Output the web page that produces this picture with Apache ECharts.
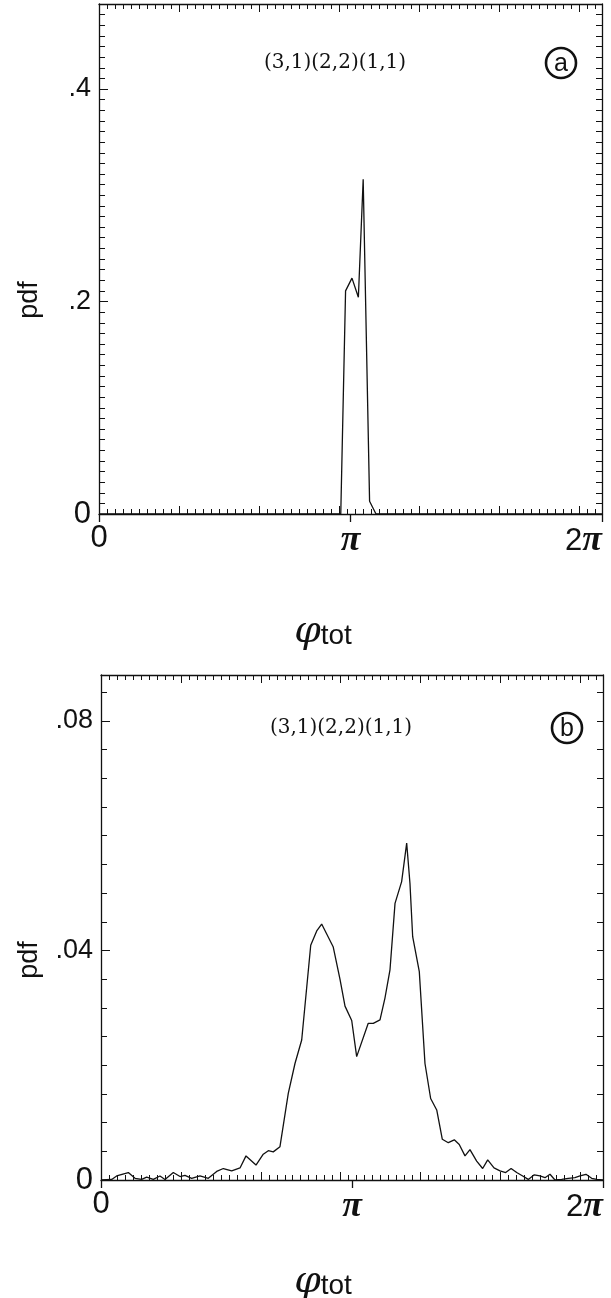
<!DOCTYPE html>
<html>
<head>
<meta charset="utf-8">
<script src="https://cdn.jsdelivr.net/npm/echarts@6/dist/echarts.min.js"></script>
<style>
html,body{margin:0;padding:0;background:#fff;}
#c{width:611px;height:1298px;}
</style>
</head>
<body>
<div id="c"></div>
<script>
// ---------- data ----------
const TWO_PI = 2 * Math.PI;
const xTickValues = [0, Math.PI, TWO_PI];
const xTickLabels = ['0', 'π', '2π'];

// panel (a)
const aX = [0, 3.02, 3.08, 3.16, 3.24, 3.30, 3.38, 3.46, TWO_PI];
const aY = [0, 0, 0.21, 0.222, 0.204, 0.315, 0.012, 0, 0];
const aYTickValues = [0, 0.2, 0.4];
const aYTickLabels = ['0', '.2', '.4'];
const aYMax = 0.48;

// panel (b)
const bX = [0, 0.134, 0.196, 0.342, 0.426, 0.509, 0.572, 0.655, 0.738, 0.801, 0.905, 0.989, 1.051, 1.135, 1.239, 1.343,
  1.448, 1.531, 1.636, 1.740, 1.815, 1.940, 2.031, 2.094, 2.156, 2.240, 2.344, 2.428, 2.512, 2.625, 2.700, 2.762,
  2.907, 2.991, 3.054, 3.138, 3.200, 3.345, 3.408, 3.492, 3.554, 3.617, 3.680, 3.763, 3.826, 3.867, 3.901, 3.984,
  4.055, 4.126, 4.202, 4.272, 4.347, 4.422, 4.484, 4.556, 4.618, 4.702, 4.777, 4.840, 4.919, 4.994, 5.065, 5.133,
  5.203, 5.278, 5.348, 5.423, 5.494, 5.557, 5.620, 5.682, 5.766, 5.849, 5.932, 5.995, 6.070, 6.141, 6.204, TWO_PI];
const bY = [0, 0.0001, 0.0007, 0.0013, 0.0003, 0.0001, 0.0005, 0.0001, 0.0007, 0.0001, 0.0013, 0.0006, 0.0008, 0.0003, 0.0007, 0.0003,
  0.0015, 0.0020, 0.0016, 0.0021, 0.0042, 0.0026, 0.0045, 0.0051, 0.0049, 0.0058, 0.0151, 0.0203, 0.0244, 0.0409, 0.0434, 0.0446,
  0.0406, 0.0350, 0.0303, 0.0278, 0.0215, 0.0273, 0.0273, 0.0279, 0.0317, 0.0366, 0.0482, 0.0520, 0.0587, 0.0517, 0.0424, 0.0363,
  0.0203, 0.0142, 0.0122, 0.0071, 0.0065, 0.0070, 0.0062, 0.0042, 0.0053, 0.0033, 0.0020, 0.0035, 0.0021, 0.0016, 0.0013, 0.0020,
  0.0013, 0.0007, 0.0001, 0.0009, 0.0007, 0.0004, 0.0010, 0, 0.0001, 0.0003, 0.0004, 0.0007, 0.0010, 0.0003, 0.0001, 0];
const bYTickValues = [0, 0.04, 0.08];
const bYTickLabels = ['0', '.04', '.08'];
const bYMax = 0.088;

const panelLabel = '(3,1)(2,2)(1,1)';
const panelLetters = ['a', 'b'];
const yName = 'pdf';

// ---------- build ----------
const SANS = '"Liberation Sans", Arial, Helvetica, sans-serif';
const SERIF = '"DejaVu Serif", "Liberation Serif", serif';
const TSERIF = '"Liberation Serif", "Times New Roman", serif';
const INK = '#111';

function pick(vals, labs, v) {
  for (let i = 0; i < vals.length; i++) if (Math.abs(vals[i] - v) < 1e-6) return labs[i];
  return null;
}

function xAxes(g) {
  const line = {show: true, onZero: false, lineStyle: {color: INK, width: 1.3}};
  const noLine = {show: false, onZero: false};
  const base = {type: 'value', gridIndex: g, min: 0, max: TWO_PI, splitLine: {show: false}};
  return [
    Object.assign({}, base, {position: 'bottom', interval: 0.1, axisLine: line,
      axisTick: {show: true, inside: true, length: 5, lineStyle: {color: INK, width: 1}}, axisLabel: {show: false}}),
    Object.assign({}, base, {position: 'bottom', interval: 1, axisLine: noLine,
      axisTick: {show: true, inside: true, length: 8, lineStyle: {color: INK, width: 1}}, axisLabel: {show: false}}),
    Object.assign({}, base, {position: 'bottom', interval: Math.PI, axisLine: noLine,
      axisTick: {show: true, inside: false, length: 8, lineStyle: {color: INK, width: 1.3}},
      axisLabel: {show: true, margin: 9, alignMaxLabel: 'right',
        formatter: function (v) {
          const s = pick(xTickValues, xTickLabels, v);
          if (s === null) return '';
          return s.split('').map(function (ch) { return ch === 'π' ? '{p|π}' : '{n|' + ch + '}'; }).join('');
        },
        rich: {
          n: {fontFamily: SANS, fontSize: 31, color: INK},
          p: {fontFamily: TSERIF, fontStyle: 'italic', fontWeight: 'bold', fontSize: 36, color: INK}
        }}}),
    Object.assign({}, base, {position: 'top', interval: 0.1, axisLine: line,
      axisTick: {show: true, inside: true, length: 5, lineStyle: {color: INK, width: 1}}, axisLabel: {show: false}}),
    Object.assign({}, base, {position: 'top', interval: 1, axisLine: noLine,
      axisTick: {show: true, inside: true, length: 8, lineStyle: {color: INK, width: 1}}, axisLabel: {show: false}})
  ];
}

function yAxes(g, maxV, minorStep, majorStep, vals, labs) {
  const line = {show: true, onZero: false, lineStyle: {color: INK, width: 1.3}};
  const noLine = {show: false, onZero: false};
  const base = {type: 'value', gridIndex: g, min: 0, max: maxV, splitLine: {show: false}};
  return [
    Object.assign({}, base, {position: 'left', interval: minorStep, axisLine: line,
      axisTick: {show: true, inside: true, length: 6, lineStyle: {color: INK, width: 1}}, axisLabel: {show: false}}),
    Object.assign({}, base, {position: 'left', interval: majorStep, axisLine: noLine,
      axisTick: {show: true, inside: true, length: 9, lineStyle: {color: INK, width: 1}},
      axisLabel: {show: true, margin: 8, showMaxLabel: false,
        formatter: function (v) {
          const s = pick(vals, labs, v);
          if (s === null) return '';
          return s === '0' ? '{z|0}' : '{t|' + s + '}';
        },
        rich: {
          z: {fontFamily: SANS, fontSize: 31, color: INK},
          t: {fontFamily: SANS, fontSize: 27, color: INK}
        }}}),
    Object.assign({}, base, {position: 'right', interval: minorStep, axisLine: line,
      axisTick: {show: true, inside: true, length: 6, lineStyle: {color: INK, width: 1}}, axisLabel: {show: false}})
  ];
}

const grids = [
  {left: 99, top: 4, width: 503, height: 510},
  {left: 101, top: 675, width: 502, height: 505}
];

const xs = xAxes(0).concat(xAxes(1));
const ys = yAxes(0, aYMax, 0.01, 0.2, aYTickValues, aYTickLabels)
  .concat(yAxes(1, bYMax, 0.005, 0.04, bYTickValues, bYTickLabels));

function zip(X, Y) { return X.map(function (x, i) { return [x, Y[i]]; }); }

const series = [
  {type: 'line', xAxisIndex: 0, yAxisIndex: 0, data: zip(aX, aY), showSymbol: false, symbol: 'none',
    lineStyle: {color: INK, width: 1.3}, animation: false},
  {type: 'line', xAxisIndex: 5, yAxisIndex: 3, data: zip(bX, bY), showSymbol: false, symbol: 'none',
    lineStyle: {color: INK, width: 1.3}, animation: false}
];

const titleRich = {
  f: {fontFamily: SERIF, fontStyle: 'italic', fontSize: 38, fill: INK},
  t: {fontFamily: SANS, fontSize: 28, fill: INK, padding: [8, 0, 0, 0]}
};
const graphic = [];
[[0, 63, 335, 561, 300, 632], [1, 728, 341, 567, 960, 1282]].forEach(function (p) {
  graphic.push({type: 'text', x: p[2], y: p[1],
    style: {text: panelLabel, font: '20px ' + SERIF, fill: INK, align: 'center', verticalAlign: 'middle'}});
  graphic.push({type: 'circle', shape: {cx: p[3], cy: p[1], r: 15}, style: {fill: 'none', stroke: INK, lineWidth: 2.6}});
  graphic.push({type: 'text', x: p[3], y: p[1] + 1,
    style: {text: panelLetters[p[0]], font: '25px ' + SANS, fill: INK, align: 'center', verticalAlign: 'middle'}});
  graphic.push({type: 'text', x: 30, y: p[4], rotation: Math.PI / 2,
    style: {text: yName, font: '27px ' + SANS, fill: INK, align: 'center', verticalAlign: 'middle'}});
  graphic.push({type: 'text', x: 323, y: p[5],
    style: {text: '{f|φ}{t|tot}', rich: titleRich, align: 'center', verticalAlign: 'middle'}});
});

const chart = echarts.init(document.getElementById('c'), null, {renderer: 'canvas'});
chart.setOption({
  animation: false,
  backgroundColor: '#fff',
  grid: grids,
  xAxis: xs,
  yAxis: ys,
  series: series,
  graphic: graphic
});
</script>
</body>
</html>
